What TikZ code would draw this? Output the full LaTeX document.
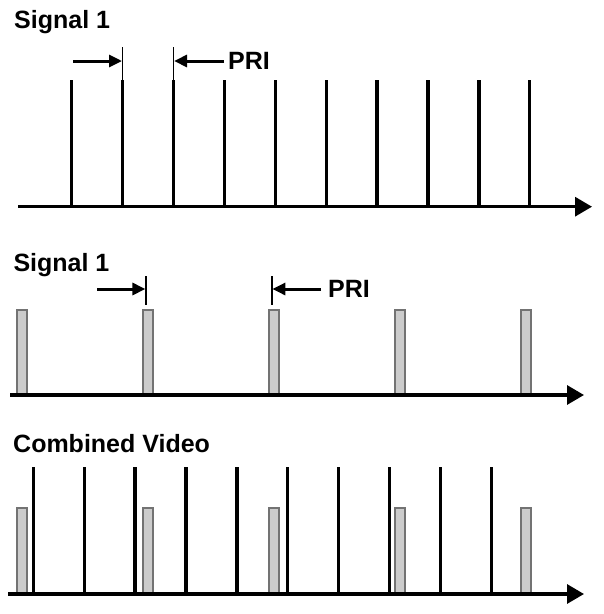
\documentclass[tikz,border=0pt]{standalone}
\usepackage{fontspec}
\setmainfont{Liberation Sans}
\usetikzlibrary{arrows.meta}
\begin{document}
\begin{tikzpicture}[x=1pt,y=-1pt,
  lbl/.style={anchor=base west,inner sep=0pt,font=\fontsize{25}{30}\selectfont\bfseries},
  axisline/.style={line width=3.2pt,-{Triangle[length=17pt,width=19pt]}},
  pulse/.style={line width=3.3pt},
  grayp/.style={draw=black!55,fill=black!20,line width=1.8pt},
  tickline/.style={line width=1.4pt},
  priarrow/.style={line width=3pt,-{Triangle[length=13pt,width=12pt]},shorten >=0.6pt}]
\useasboundingbox (0,0) rectangle (604,614);
% ---------- Panel 1 ----------
\node[lbl] (t1) at (14,28) {Signal 1};
\coordinate (a1s) at (18,206.7);
\coordinate (a1e) at (592,206.7);
\draw[axisline] (a1s) -- (a1e);
\foreach \k in {0,...,9}{
  \coordinate (p1top\k) at ({71.7+50.9*\k},80);
  \coordinate (p1bot\k) at ({71.7+50.9*\k},206.7);
  \draw[pulse] (p1top\k) -- (p1bot\k);
}
\coordinate (k1a) at (122.6,47);
\coordinate (k1b) at (122.6,80);
\coordinate (k2a) at (173.5,47);
\coordinate (k2b) at (173.5,80);
\draw[tickline] (k1a) -- (k1b);
\draw[tickline] (k2a) -- (k2b);
\coordinate (r1s) at (73,61);
\coordinate (r1e) at (122.6,61);
\coordinate (r2s) at (224,61);
\coordinate (r2e) at (173.5,61);
\draw[priarrow] (r1s) -- (r1e);
\draw[priarrow] (r2s) -- (r2e);
\node[lbl] (pri1) at (228,69) {PRI};
% ---------- Panel 2 ----------
\node[lbl] (t2) at (13.3,271) {Signal 1};
\coordinate (a2s) at (10,395);
\coordinate (a2e) at (584,395);
\foreach \k in {0,...,4}{
  \draw[grayp] ({22+125.9*\k-5},394) rectangle ({22+125.9*\k+5},310);
}
\draw[axisline] (a2s) -- (a2e);
\coordinate (k3a) at (146,276);
\coordinate (k3b) at (146,305);
\coordinate (k4a) at (271.8,276);
\coordinate (k4b) at (271.8,305);
\draw[tickline] (k3a) -- (k3b);
\draw[tickline] (k4a) -- (k4b);
\coordinate (r3s) at (97,289);
\coordinate (r3e) at (146,289);
\coordinate (r4s) at (321,289);
\coordinate (r4e) at (271.8,289);
\draw[priarrow] (r3s) -- (r3e);
\draw[priarrow] (r4s) -- (r4e);
\node[lbl] (pri2) at (328,297.5) {PRI};
% ---------- Panel 3 ----------
\node[lbl] (t3) at (13,452) {Combined Video};
\coordinate (a3s) at (8,594);
\coordinate (a3e) at (584,594);
\foreach \k in {0,...,4}{
  \draw[grayp] ({21.7+126*\k-5},593) rectangle ({21.7+126*\k+5},508);
}
\foreach \k in {0,...,9}{
  \coordinate (p3top\k) at ({33.3+50.9*\k},467);
  \coordinate (p3bot\k) at ({33.3+50.9*\k},594);
  \draw[pulse] (p3top\k) -- (p3bot\k);
}
\draw[axisline] (a3s) -- (a3e);
\end{tikzpicture}
\end{document}
